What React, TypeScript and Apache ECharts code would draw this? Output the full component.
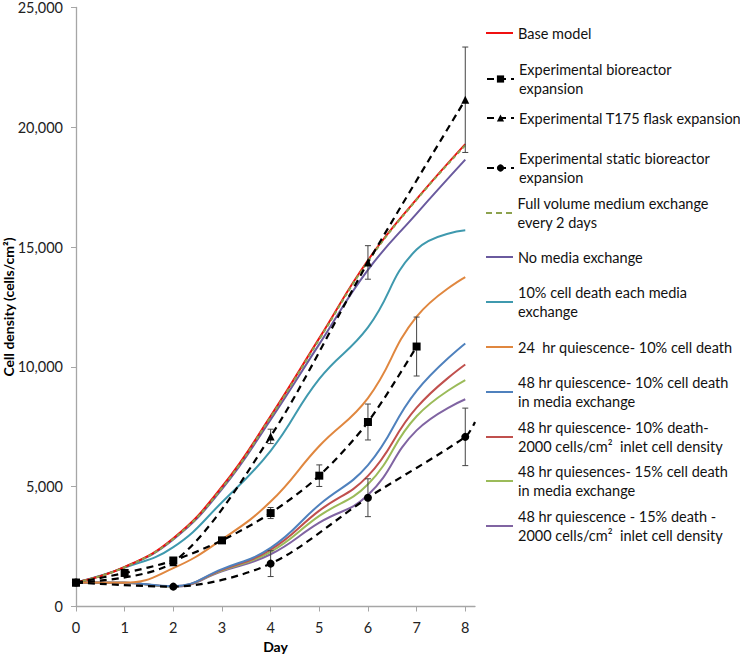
import React, { useEffect, useRef } from "react";
import * as echarts from "echarts";

const FONT = "Lato, 'Open Sans', sans-serif";

// Model curves (day 0..8)
const days = [0, 1, 2, 3, 4, 5, 6, 7, 8];
const baseModel = [1000, 1650, 2850, 5000, 7950, 11200, 14450, 17000, 19300];
const fullVolume = [1000, 1640, 2820, 4950, 7900, 11150, 14400, 16980, 19250];
const noMedia = [1000, 1640, 2800, 4900, 7800, 10950, 14050, 16400, 18650];
const tenPctDeath = [1000, 1620, 2480, 4350, 6500, 9500, 11650, 14900, 15700];
const q24 = [1000, 990, 1600, 2800, 4380, 6700, 8700, 12100, 13750];
const q48_10 = [1000, 990, 850, 1560, 2450, 4250, 5900, 9000, 10980];
const q48_10_2000 = [1000, 990, 840, 1530, 2370, 4000, 5450, 8300, 10100];
const q48_15 = [1000, 990, 830, 1500, 2280, 3780, 5100, 7940, 9450];
const q48_15_2000 = [1000, 990, 820, 1470, 2180, 3500, 4650, 7350, 8650];

// Experimental data
const bioDays = [0, 1, 2, 3, 4, 5, 6, 7];
const bio = [1000, 1400, 1920, 2760, 3900, 5460, 7700, 10850];
const bioErr = [0, 0, 120, 100, 230, 450, 750, 1230];
const flaskDays = [0, 2, 4, 6, 8];
const flask = [1000, 1850, 7100, 14360, 21150];
const flaskErr = [0, 0, 300, 700, 2200];
const staticDays = [0, 2, 4, 6, 8, 8.2];
const staticBio = [1000, 830, 1790, 4540, 7080, 7700];
const staticErr = [0, 0, 540, 790, 1200, 0];

const xTicks = [0, 1, 2, 3, 4, 5, 6, 7, 8];

const N_BASE = "Base model";
const N_BIO = "Experimental bioreactor\nexpansion";
const N_FLASK = "Experimental T175 flask expansion";
const N_STATIC = "Experimental static bioreactor\nexpansion";
const N_FULL = "Full volume medium exchange\nevery 2 days";
const N_NOMEDIA = "No media exchange";
const N_TEN = "10% cell death each media\nexchange";
const N_Q24 = "24  hr quiescence- 10% cell death";
const N_Q48A = "48 hr quiescence- 10% cell death\nin media exchange";
const N_Q48B = "48 hr quiescence- 10% death-\n2000 cells/cm²  inlet cell density";
const N_Q48C = "48 hr quiesences- 15% cell death\nin media exchange";
const N_Q48D = "48 hr quiescence - 15% death -\n2000 cells/cm²  inlet cell density";

// legend entries: name, first-line center y
const legendNames = [N_BASE, N_BIO, N_FLASK, N_STATIC, N_FULL, N_NOMEDIA, N_TEN, N_Q24, N_Q48A, N_Q48B, N_Q48C, N_Q48D];
const legendY = [33, 79, 118, 168, 213, 257, 302, 347, 392, 437, 481, 526];
const experimentalNames = [N_BIO, N_FLASK, N_STATIC];

const DASH_ICON = "path://M0,0h6v2h-6z M10,0h6v2h-6z M20,0h6v2h-6z";

function pairs(xs: number[], ys: number[]) {
  return xs.map((x, i) => [x, ys[i]]);
}

function modelSeries(name: string, ys: number[], color: string, extra: any = {}) {
  return {
    type: "line",
    name,
    data: pairs(days, ys),
    smooth: 0.45,
    symbol: "none",
    lineStyle: { color, width: 2 },
    itemStyle: { color },
    z: 2,
    ...extra,
  };
}

function expSeries(name: string, xs: number[], ys: number[], symbol: string, size: number, extraData?: (d: any, i: number) => any) {
  return {
    type: "line",
    name,
    data: xs.map((x, i) => {
      const item: any = { value: [x, ys[i]] };
      return extraData ? extraData(item, i) : item;
    }),
    smooth: 0.3,
    symbol,
    symbolSize: size,
    showAllSymbol: true,
    lineStyle: { color: "#000", width: 2.2, type: [7, 5] },
    itemStyle: { color: "#000" },
    z: 4,
  };
}

function errSeries(xs: number[], ys: number[], errs: number[]) {
  const data: number[][] = [];
  xs.forEach((x, i) => {
    if (errs[i] > 0) data.push([x, ys[i] - errs[i], ys[i] + errs[i]]);
  });
  return {
    type: "custom",
    name: "err",
    data,
    z: 3,
    renderItem: (_params: any, api: any) => {
      const x = api.value(0);
      const lo = api.coord([x, api.value(1)]);
      const hi = api.coord([x, api.value(2)]);
      const cap = 3;
      const st = { stroke: "#444", lineWidth: 1 };
      return {
        type: "group",
        children: [
          { type: "line", shape: { x1: lo[0], y1: lo[1], x2: hi[0], y2: hi[1] }, style: st },
          { type: "line", shape: { x1: lo[0] - cap, y1: lo[1], x2: lo[0] + cap, y2: lo[1] }, style: st },
          { type: "line", shape: { x1: hi[0] - cap, y1: hi[1], x2: hi[0] + cap, y2: hi[1] }, style: st },
        ],
      };
    },
  };
}

export default function App() {
  const ref = useRef<HTMLDivElement>(null);
  useEffect(() => {
    const chart = echarts.init(ref.current!, null, { renderer: "svg" });

    const legends = legendNames.map((name, i) => {
      const two = name.indexOf("\n") >= 0;
      const isExp = experimentalNames.indexOf(name) >= 0;
      const isDash = name === N_FULL;
      const dataItem: any = isExp ? { name } : { name, icon: isDash ? DASH_ICON : "rect" };
      return {
        data: [dataItem],
        orient: "vertical",
        left: 486,
        top: two ? legendY[i] - 28.5 : legendY[i] - 9.5,
        itemWidth: 27,
        itemHeight: isExp ? 9 : 2,
        padding: 0,
        selectedMode: false,
        textStyle: {
          fontFamily: FONT,
          fontSize: 14.5,
          color: "#111",
          lineHeight: 19,
          padding: two ? [19, 0, 0, 0] : 0,
        },
      };
    });

    const option: any = {
      animation: false,
      backgroundColor: "#fff",
      textStyle: { fontFamily: FONT },
      grid: { left: 76, right: 265, top: 7.5, bottom: 48.5, containLabel: false, outerBoundsMode: "none" },
      legend: legends,
      xAxis: {
        type: "value",
        min: 0,
        max: 8.2,
        interval: 1,
        name: "Day",
        nameLocation: "middle",
        nameGap: 33,
        nameMoveOverlap: false,
        nameTextStyle: { fontFamily: FONT, fontWeight: "bold", fontSize: 14, color: "#000" },
        axisLine: { show: true, lineStyle: { color: "#A6A6A6", width: 1.3 } },
        axisTick: { show: true, length: 5, customValues: xTicks, lineStyle: { color: "#A6A6A6" } },
        axisLabel: { customValues: xTicks, fontFamily: FONT, fontSize: 14.5, color: "#222", margin: 13 },
        splitLine: { show: false },
      },
      yAxis: {
        type: "value",
        min: 0,
        max: 25000,
        interval: 5000,
        name: "Cell density (cells/cm²)",
        nameLocation: "middle",
        nameGap: 61,
        nameMoveOverlap: false,
        nameRotate: 90,
        nameTextStyle: { fontFamily: FONT, fontWeight: "bold", fontSize: 14, color: "#000" },
        axisLine: { show: true, lineStyle: { color: "#A6A6A6", width: 1.3 } },
        axisTick: { show: true, length: 5, lineStyle: { color: "#A6A6A6" } },
        axisLabel: {
          fontFamily: FONT,
          fontSize: 14.5,
          lineHeight: 15,
          color: "#222",
          margin: 13,
          formatter: (v: number) => v.toLocaleString("en-US"),
        },
        splitLine: { show: false },
      },
      series: [
        modelSeries(N_Q48D, q48_15_2000, "#8064A2"),
        modelSeries(N_Q48C, q48_15, "#9BBB59"),
        modelSeries(N_Q48B, q48_10_2000, "#C0504D"),
        modelSeries(N_Q48A, q48_10, "#4F81BD"),
        modelSeries(N_Q24, q24, "#E0873F"),
        modelSeries(N_TEN, tenPctDeath, "#3F99AE"),
        modelSeries(N_NOMEDIA, noMedia, "#6A5A9E"),
        modelSeries(N_BASE, baseModel, "#F01010"),
        modelSeries(N_FULL, fullVolume, "#8CA24E", { lineStyle: { color: "#8CA24E", width: 2, type: [4, 3] } }),
        errSeries(bioDays, bio, bioErr),
        errSeries(flaskDays, flask, flaskErr),
        errSeries(staticDays, staticBio, staticErr),
        expSeries(N_BIO, bioDays, bio, "rect", 8),
        expSeries(N_FLASK, flaskDays, flask, "triangle", 8),
        expSeries(N_STATIC, staticDays, staticBio, "circle", 8, (item, i) =>
          i === staticDays.length - 1 ? { ...item, symbol: "none" } : item
        ),
      ],
    };
    chart.setOption(option);
    return () => chart.dispose();
  }, []);
  return (
    <div
      ref={ref}
      style={{ position: "absolute", left: 0, top: 0, width: 740, height: 655, background: "#fff" }}
    />
  );
}
